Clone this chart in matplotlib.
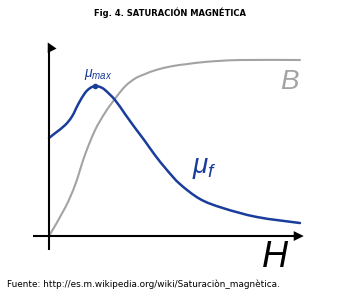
import matplotlib
matplotlib.use('Agg')
import matplotlib.pyplot as plt
from matplotlib.patches import Polygon, PathPatch
from matplotlib.path import Path

plt.rcParams['mathtext.fontset'] = 'custom'
plt.rcParams['mathtext.it'] = 'Liberation Sans:italic'
plt.rcParams['mathtext.rm'] = 'Liberation Sans'

# curve values (H in 0..10, B saturates at 1)
h_b = [0, 0.64, 1.04, 1.43, 1.83, 2.23, 2.63, 3.03, 3.43, 3.82, 4.30, 4.94, 5.50,
       6.29, 7.61, 10.0]
b_vals = [0, 0.16, 0.29, 0.46, 0.60, 0.70, 0.78, 0.85, 0.895, 0.92, 0.945, 0.966,
          0.977, 0.99, 1.0, 1.0]

h_mu = [0, 0.24, 0.64, 0.92, 1.16, 1.43, 1.63, 1.83, 2.03, 2.23, 2.63, 3.03, 3.43,
        3.82, 4.22, 4.70, 5.22, 6.02, 6.93, 8.29, 10.0]
mu_vals = [0.557, 0.584, 0.630, 0.680, 0.748, 0.812, 0.840, 0.852, 0.847, 0.830,
           0.773, 0.693, 0.614, 0.540, 0.460, 0.375, 0.295, 0.210, 0.159, 0.108, 0.074]
h_peak = 1.83
mu_peak = 0.852

blue = '#1a3d9c'
grey = '#a3a3a3'


def smooth_path(xs, ys):
    # Catmull-Rom through the points, drawn as cubic Bezier segments
    pts = list(zip(xs, ys))
    verts = [pts[0]]
    codes = [Path.MOVETO]
    n = len(pts)
    for i in range(n - 1):
        p0 = pts[max(i - 1, 0)]
        p1 = pts[i]
        p2 = pts[i + 1]
        p3 = pts[min(i + 2, n - 1)]
        c1 = (p1[0] + (p2[0] - p0[0]) / 6, p1[1] + (p2[1] - p0[1]) / 6)
        c2 = (p2[0] - (p3[0] - p1[0]) / 6, p2[1] - (p3[1] - p1[1]) / 6)
        verts += [c1, c2, p2]
        codes += [Path.CURVE4] * 3
    return Path(verts, codes)


fig = plt.figure(figsize=(3.4, 3.01), dpi=100)
ax = fig.add_axes([0, 0, 1, 1])
ax.set_xlim(-1.952, 11.594)
ax.set_ylim(-0.369, 1.341)
ax.axis('off')

# axes with arrows
ax.plot([0, 0], [-0.08, 1.06], color='black', lw=1.5, solid_capstyle='butt')
ax.plot([-0.64, 9.9], [0, 0], color='black', lw=1.5, solid_capstyle='butt')
ax.add_patch(Polygon([[-0.05, 1.10], [-0.05, 1.04], [0.30, 1.065]], closed=True,
                     color='black', lw=0))
ax.add_patch(Polygon([[9.75, 0.028], [9.75, -0.028], [10.15, 0]], closed=True,
                     color='black', lw=0))

ax.add_patch(PathPatch(smooth_path(h_b, b_vals), facecolor='none', edgecolor=grey,
                       lw=1.5, capstyle='round'))
ax.add_patch(PathPatch(smooth_path(h_mu, mu_vals), facecolor='none', edgecolor=blue,
                       lw=1.8, capstyle='round'))
ax.plot([h_peak], [mu_peak], 'o', color=blue, ms=3)

ax.text(1.95, 0.915, r'$\mu_{max}$', color=blue, fontsize=10, ha='center', va='center')
ax.text(9.56, 0.875, 'B', color=grey, fontsize=20, style='italic',
        family='Liberation Sans', ha='center', va='center')
ax.text(6.2, 0.39, r'$\mu_f$', color=blue, fontsize=20, ha='center', va='center')
ax.text(9.0, -0.12, 'H', color='black', fontsize=26, style='italic',
        family='Liberation Sans', ha='center', va='center')

fig.text(0.5, 0.958, 'Fig. 4. SATURACIÓN MAGNÉTICA', fontsize=6, fontweight='bold',
         family=['Liberation Sans Narrow', 'DejaVu Sans'], ha='center', va='center')
fig.text(0.02, 0.056, 'Fuente: http://es.m.wikipedia.org/wiki/Saturaciòn_magnètica.',
         fontsize=6.4, family=['Liberation Sans Narrow', 'DejaVu Sans'],
         ha='left', va='center')

fig.savefig('out.png', dpi=100)
